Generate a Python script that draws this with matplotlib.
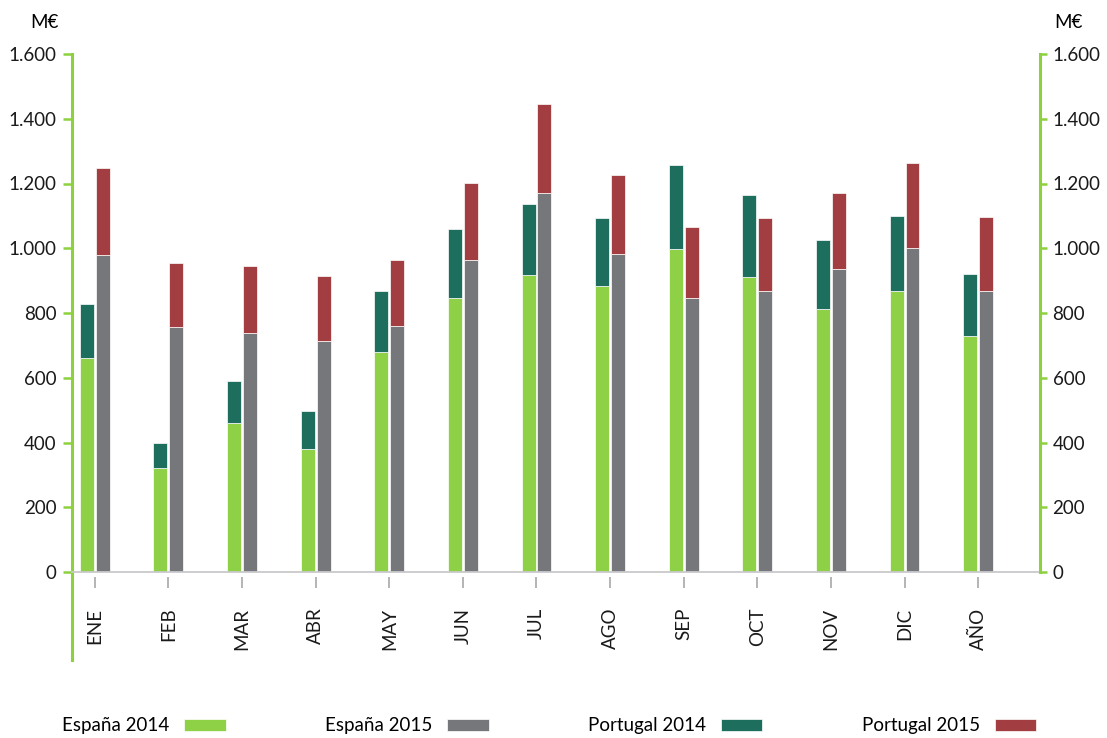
# Monthly demand chart, España / Portugal, 2014 vs 2015
import numpy as np
import matplotlib
matplotlib.use('Agg')
import matplotlib.pyplot as plt
from matplotlib.lines import Line2D

meses = ['ENE', 'FEB', 'MAR', 'ABR', 'MAY', 'JUN', 'JUL',
         'AGO', 'SEP', 'OCT', 'NOV', 'DIC', 'AÑO']
espana_2014 = [660, 322, 461, 381, 678, 845, 916, 882, 997, 910, 811, 867, 730]
portugal_2014 = [167, 77, 130, 117, 189, 213, 220, 210, 259, 254, 213, 232, 192]
espana_2015 = [978, 758, 737, 712, 761, 963, 1170, 981, 845, 867, 935, 1000, 867]
portugal_2015 = [269, 195, 207, 201, 202, 238, 275, 245, 221, 225, 235, 263, 229]
yticks = [0, 200, 400, 600, 800, 1000, 1200, 1400, 1600]

plt.rcParams['font.family'] = ['Lato', 'DejaVu Sans']

c_es14 = '#8ed147'
c_es15 = '#76777b'
c_pt14 = '#1e6e5d'
c_pt15 = '#a23d41'
c_axis = '#8dd13f'
fs = 13.5

fig = plt.figure(figsize=(11.07, 7.38), dpi=100)
ax = fig.add_axes([72 / 1107, 166 / 738, 968 / 1107, 518 / 738])

x = np.arange(len(meses))
w = 0.19
off = 0.108
kw = dict(width=w, edgecolor='white', linewidth=0.5)
b1 = ax.bar(x - off, espana_2014, color=c_es14, **kw)
b3 = ax.bar(x - off, portugal_2014, bottom=espana_2014, color=c_pt14, **kw)
b2 = ax.bar(x + off, espana_2015, color=c_es15, **kw)
b4 = ax.bar(x + off, portugal_2015, bottom=espana_2015, color=c_pt15, **kw)

ax.set_xlim(-0.31, 12.84)
ax.set_ylim(0, 1600)
ax.set_xticks([])
ax.set_yticks(yticks, [f'{v:,}'.replace(',', '.') for v in yticks])
ax.tick_params(axis='y', colors=c_axis, labelcolor='#1a1a1a', length=6.5,
               width=1.8, pad=4.5, labelsize=fs)

for s in ['top', 'right', 'left']:
    ax.spines[s].set_visible(False)
ax.spines['bottom'].set_color('#c9c9cd')
ax.spines['bottom'].set_linewidth(1.3)

# left axis line runs down past the month labels
ax.add_line(Line2D([0, 0], [-0.17, 1.0], transform=ax.transAxes,
                   color=c_axis, lw=2.2, clip_on=False))

# month ticks sit a few pixels below the baseline
sec = ax.secondary_xaxis(-5 / 518)
sec.set_xticks(x, labels=meses)
sec.spines['bottom'].set_visible(False)
sec.tick_params(length=8, width=1.2, color='#a8a8a8', pad=14,
                labelrotation=90, labelsize=fs, labelcolor='#1a1a1a')

ax2 = ax.twinx()
ax2.set_ylim(0, 1600)
ax2.set_yticks(yticks, [f'{v:,}'.replace(',', '.') for v in yticks])
for s in ['top', 'left', 'bottom']:
    ax2.spines[s].set_visible(False)
ax2.spines['right'].set_color(c_axis)
ax2.spines['right'].set_linewidth(2.2)
ax2.tick_params(axis='y', colors=c_axis, labelcolor='#1a1a1a', length=5,
                width=1.8, pad=4, labelsize=fs)

fig.text(44 / 1107, 1 - 22 / 738, 'M€', ha='center', va='center', fontsize=fs)
fig.text(1068 / 1107, 1 - 22 / 738, 'M€', ha='center', va='center', fontsize=fs)

fig.legend([b1, b2, b3, b4],
           ['España 2014', 'España 2015', 'Portugal 2014', 'Portugal 2015'],
           ncol=4, markerfirst=False, frameon=False, loc='center',
           bbox_to_anchor=(549 / 1107, 1 - 726 / 738), fontsize=fs,
           handlelength=2.2, handleheight=0.6, handletextpad=0.8,
           columnspacing=5.3)

fig.savefig('out.png', dpi=100)
